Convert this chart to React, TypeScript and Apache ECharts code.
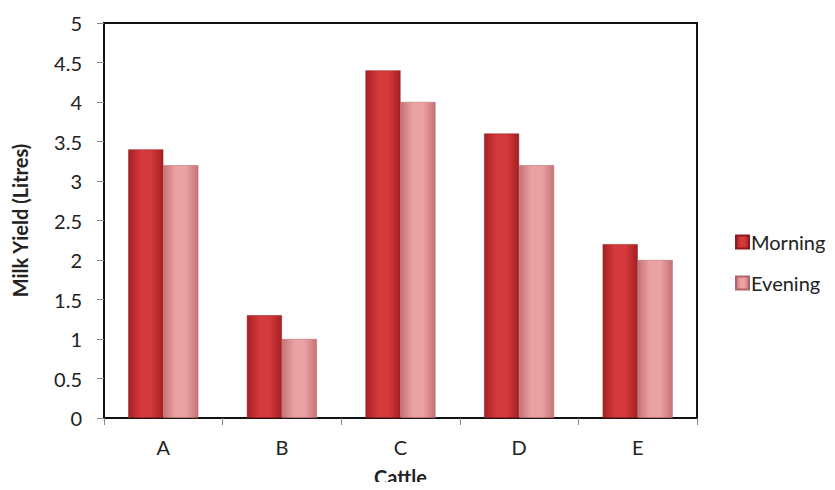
import React, { useEffect, useRef } from "react";
import * as echarts from "echarts";

const categories = ["A", "B", "C", "D", "E"];
const morning = [3.4, 1.3, 4.4, 3.6, 2.2];
const evening = [3.2, 1.0, 4.0, 3.2, 2.0];
const yTicks = [0, 0.5, 1, 1.5, 2, 2.5, 3, 3.5, 4, 4.5, 5];

const font = "Lato, 'Open Sans', sans-serif";

function grad(edge: string, mid: string) {
  return new echarts.graphic.LinearGradient(0, 0, 1, 0, [
    { offset: 0, color: edge },
    { offset: 0.35, color: mid },
    { offset: 0.65, color: mid },
    { offset: 1, color: edge },
  ]);
}

export default function App() {
  const ref = useRef<HTMLDivElement>(null);
  useEffect(() => {
    if (!ref.current) return;
    const chart = echarts.init(ref.current, undefined, { renderer: "svg" });
    chart.setOption({
      animation: false,
      grid: {
        left: 104,
        right: 138,
        top: 23,
        bottom: 72,
        show: true,
        borderColor: "#111",
        borderWidth: 2,
        containLabel: false,
        outerBoundsMode: "none",
      },
      legend: {
        orient: "vertical",
        left: 735,
        top: 232,
        itemWidth: 13,
        itemHeight: 13,
        itemGap: 21,
        icon: "rect",
        padding: 0,
        textStyle: { fontFamily: font, fontSize: 20, lineHeight: 20, color: "#222", padding: [0, 0, 0, -3] },
        data: ["Morning", "Evening"],
      },
      xAxis: {
        type: "category",
        data: categories,
        name: "Cattle",
        nameLocation: "middle",
        nameGap: 49,
        nameTextStyle: { fontFamily: font, fontSize: 20, fontWeight: "bold", color: "#222" },
        axisLine: { lineStyle: { color: "#111", width: 2 } },
        axisTick: { show: true, length: 7, lineStyle: { color: "#888" } },
        axisLabel: { fontFamily: font, fontSize: 20, color: "#222", margin: 19 },
      },
      yAxis: {
        type: "value",
        min: yTicks[0],
        max: yTicks[yTicks.length - 1],
        interval: 0.5,
        name: "Milk Yield (Litres)",
        nameLocation: "middle",
        nameGap: 74,
        nameRotate: 90,
        nameTextStyle: { fontFamily: font, fontSize: 20, fontWeight: "bold", color: "#222" },
        axisLine: { show: true, lineStyle: { color: "#111", width: 2 } },
        axisTick: { show: true, length: 7, lineStyle: { color: "#888" } },
        splitLine: { show: false },
        axisLabel: { fontFamily: font, fontSize: 20, color: "#222", margin: 22 },
      },
      series: [
        {
          name: "Morning",
          type: "bar",
          data: morning,
          barWidth: 35,
          barGap: "0%",
          itemStyle: { color: grad("#a51f22", "#d4393c"), borderColor: "#8e1a1c", borderWidth: 0.5 },
        },
        {
          name: "Evening",
          type: "bar",
          data: evening,
          barWidth: 35,
          itemStyle: { color: grad("#c57275", "#eba2a4"), borderColor: "#b06266", borderWidth: 0.5 },
        },
      ],
    });
    return () => chart.dispose();
  }, []);
  return <div ref={ref} style={{ width: 835, height: 490, margin: -8 }} />;
}
